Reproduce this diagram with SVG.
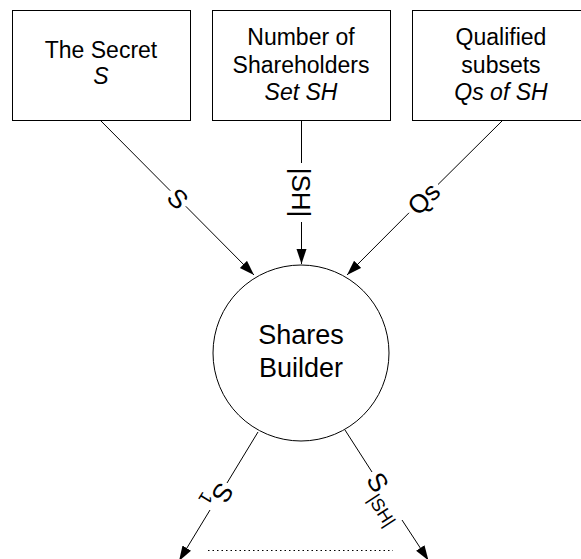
<svg xmlns="http://www.w3.org/2000/svg" width="581" height="559" viewBox="0 0 581 559">
  <style>
    .box { fill: #fff; stroke: #000; stroke-width: 1; }
    .node-text { font-family: "Liberation Sans", Arial, sans-serif; font-size: 23px; fill: #000; text-anchor: middle; }
    .big-text { font-family: "Liberation Sans", Arial, sans-serif; font-size: 27px; fill: #000; text-anchor: middle; }
    .it { font-style: italic; }
    .edge { fill: none; stroke: #000; stroke-width: 1; }
    .lbl { font-family: "Liberation Sans", Arial, sans-serif; font-size: 26px; fill: #000; }
    .sub { font-size: 18px; }
    .dots { stroke: #000; stroke-width: 1; stroke-dasharray: 1.5 3; }
  </style>
  <defs>
    <marker id="arrow" markerUnits="userSpaceOnUse" markerWidth="16" markerHeight="11" refX="15" refY="5" orient="auto">
      <path d="M0,0 L15,5 L0,10 z" fill="#000"/>
    </marker>
  </defs>
  <rect width="581" height="559" fill="#fff"/>

  <!-- input nodes -->
  <g id="secret">
    <rect class="box" x="12.5" y="10.5" width="178" height="110"/>
    <text class="node-text" x="101" y="58">The Secret</text>
    <text class="node-text it" x="101" y="84">S</text>
  </g>
  <g id="shareholders">
    <rect class="box" x="212.5" y="10.5" width="178" height="110"/>
    <text class="node-text" x="301" y="45">Number of</text>
    <text class="node-text" x="301" y="72.5">Shareholders</text>
    <text class="node-text it" x="301" y="100">Set SH</text>
  </g>
  <g id="qualified">
    <rect class="box" x="412.5" y="10.5" width="178" height="110"/>
    <text class="node-text" x="501" y="45">Qualified</text>
    <text class="node-text" x="501" y="72.5">subsets</text>
    <text class="node-text it" x="501" y="100">Qs of SH</text>
  </g>

  <!-- central process -->
  <g id="builder">
    <circle cx="301" cy="353" r="88" fill="#fff" stroke="#000" stroke-width="1"/>
    <text class="big-text" x="301" y="344">Shares</text>
    <text class="big-text" x="301" y="377">Builder</text>
  </g>

  <!-- connectors -->
  <g id="connectors">
    <path class="edge" d="M100,120 L170.2,190.7"/>
    <path class="edge" d="M185.8,206.3 L254,275" marker-end="url(#arrow)"/>

    <path class="edge" d="M301.5,120 L301.5,163"/>
    <path class="edge" d="M301.5,222 L301.5,264" marker-end="url(#arrow)"/>

    <path class="edge" d="M503,120 L438,184.5"/>
    <path class="edge" d="M409,212.8 L347,275" marker-end="url(#arrow)"/>

    <path class="edge" d="M258,432 L227,483"/>
    <path class="edge" d="M210,510 L179,561" marker-end="url(#arrow)"/>

    <path class="edge" d="M345,430 L372,472"/>
    <path class="edge" d="M402,520 L428.5,560.5" marker-end="url(#arrow)"/>

    <line class="dots" x1="208" y1="550.5" x2="393" y2="550.5"/>

    <!-- connector labels -->
    <g transform="translate(178,198.5) rotate(45)">
      <text class="lbl" x="0" y="9.3" text-anchor="middle">S</text>
    </g>
    <g transform="translate(301.5,192.5) rotate(90)">
      <text class="lbl" x="0" y="9.3" text-anchor="middle">|SH|</text>
    </g>
    <g transform="translate(423.5,198.5) rotate(-45)">
      <text class="lbl" x="0" y="9.3" text-anchor="middle">Qs</text>
    </g>
    <g transform="translate(223,493) rotate(121.5)">
      <text class="lbl" x="-8.7" y="9.3">S<tspan class="sub" dy="9">1</tspan></text>
    </g>
    <g transform="translate(378,482) rotate(57.4)">
      <text class="lbl" x="-8.7" y="9.3">S<tspan class="sub" dy="9">|SH|</tspan></text>
    </g>
  </g>
</svg>
